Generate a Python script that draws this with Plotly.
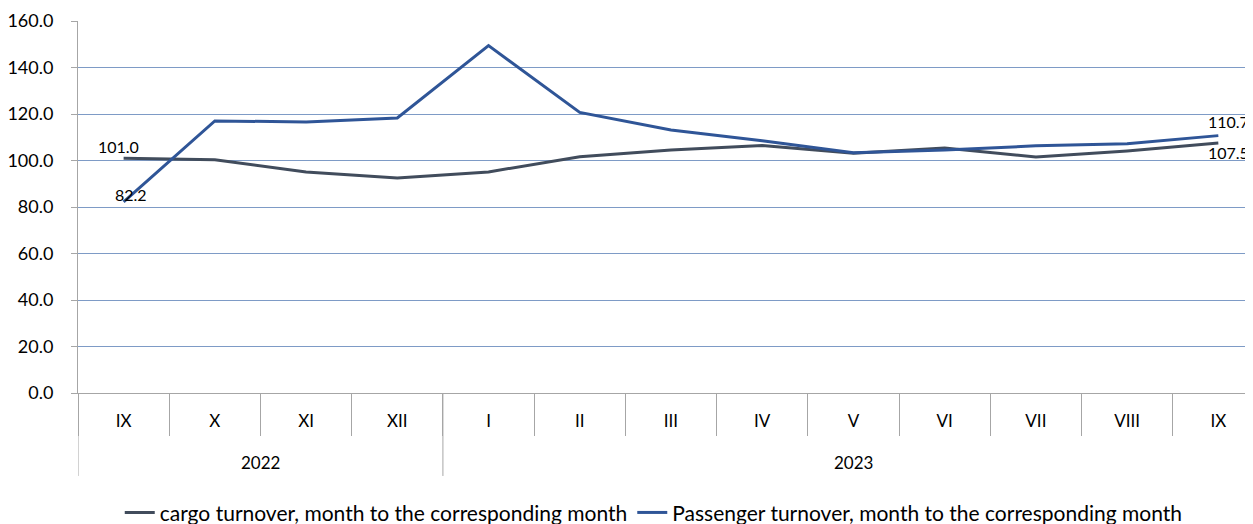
import plotly.graph_objects as go

months = ["IX", "X", "XI", "XII", "I", "II", "III", "IV", "V", "VI", "VII", "VIII", "IX\u200b"]
year_labels = ["2022", "2023"]
year_counts = [4, 9]
cargo = [101.0, 100.3, 95.1, 92.5, 95.1, 101.6, 104.5, 106.4, 103.1, 105.4, 101.5, 104.1, 107.5]
passenger = [82.2, 117.0, 116.6, 118.3, 149.4, 120.7, 113.1, 108.5, 103.3, 104.5, 106.3, 107.2, 110.7]
cargo_name = "cargo turnover, month to the corresponding month"
passenger_name = "Passenger turnover, month to the corresponding month"

FONT = "Lato, Carlito, Calibri, sans-serif"
AXIS_GRAY = "#a6a6a6"

fig = go.Figure()
fig.add_trace(go.Scatter(x=months, y=cargo, mode="lines", name=cargo_name,
                         line=dict(color="#414c5c", width=3)))
fig.add_trace(go.Scatter(x=months, y=passenger, mode="lines", name=passenger_name,
                         line=dict(color="#2f5597", width=3)))

n = len(months)
labels = [
    (0, cargo[0], f"{cargo[0]:.1f}", -5, 12),
    (0, passenger[0], f"{passenger[0]:.1f}", 7, 7),
    (n - 1, passenger[-1], f"{passenger[-1]:.1f}", 10, 14),
    (n - 1, cargo[-1], f"{cargo[-1]:.1f}", 10, -9),
]
for xi, yv, t, xs, ys in labels:
    fig.add_annotation(x=xi, y=yv, xref="x", yref="y", text=t, showarrow=False,
                       xshift=xs, yshift=ys, font=dict(size=16, color="#000000", family=FONT))

# year group labels and dividers
start = 0
for lab, cnt in zip(year_labels, year_counts):
    fig.add_annotation(x=start + (cnt - 1) / 2, y=-0.188, xref="x", yref="paper", text=lab,
                       showarrow=False, yanchor="middle",
                       font=dict(size=17, color="#000000", family=FONT))
    fig.add_shape(type="line", x0=start - 0.5, x1=start - 0.5, y0=0, y1=-0.223,
                  xref="x", yref="paper", line=dict(color=AXIS_GRAY, width=1))
    start += cnt

# page body has an 8px margin, so the figure is sized to end at the window edge
fig.update_layout(
    width=1245, height=516,
    margin=dict(l=70, r=0, t=13, b=131, autoexpand=False),
    paper_bgcolor="white", plot_bgcolor="white",
    font=dict(family=FONT, size=17, color="#000000"),
    showlegend=True,
    legend=dict(orientation="h", x=0.49, xanchor="center", y=-0.322, yanchor="middle",
                font=dict(size=21, family=FONT), bgcolor="rgba(0,0,0,0)"),
    xaxis=dict(type="category", range=[-0.5, 12.38], showgrid=False, showline=True,
               linecolor=AXIS_GRAY, linewidth=1, ticks="outside", ticklen=42,
               tickcolor=AXIS_GRAY, tickson="boundaries", ticklabelstandoff=13,
               automargin=False, tickfont=dict(size=17, family=FONT)),
    yaxis=dict(range=[0, 160], dtick=20, tickformat=".1f", showgrid=True,
               gridcolor="#7e9bc6", gridwidth=1, zeroline=False, showline=True,
               linecolor=AXIS_GRAY, ticks="outside", ticklen=6, tickcolor=AXIS_GRAY,
               ticklabelstandoff=14, automargin=False, tickfont=dict(size=18, family=FONT)),
)

fig.write_html("out.html")
